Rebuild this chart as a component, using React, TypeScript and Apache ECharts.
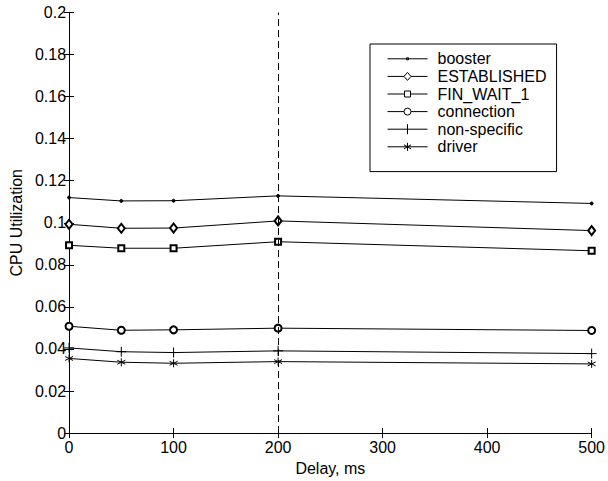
import React, { useEffect, useRef } from "react";
import * as echarts from "echarts";

const delays = [0, 50, 100, 200, 500];
const booster = [0.112, 0.1104, 0.1105, 0.1128, 0.1092];
const established = [0.0993, 0.0974, 0.0975, 0.1009, 0.0963];
const finWait1 = [0.0893, 0.0879, 0.0879, 0.091, 0.0867];
const connection = [0.0508, 0.0489, 0.0491, 0.0499, 0.0488];
const nonSpecific = [0.0405, 0.0387, 0.0383, 0.0391, 0.0378];
const driver = [0.0355, 0.0337, 0.0332, 0.034, 0.0329];
const markerDelay = 200;

const seriesNames = ["booster", "ESTABLISHED", "FIN_WAIT_1", "connection", "non-specific", "driver"];

const legendIcons = [
  "path://M0 6L40 6M19 5L21 5L21 7L19 7Z",
  "path://M0 6L16.5 6M23.5 6L40 6M20 2L23.5 6L20 10L16.5 6Z",
  "path://M0 6L17 6M23 6L40 6M17 3L23 3L23 9L17 9Z",
  "path://M0 6L16.5 6M23.5 6L40 6M23.5 6A3.5 3.5 0 1 1 16.5 6A3.5 3.5 0 1 1 23.5 6Z",
  "path://M0 6L40 6M20 1L20 11",
  "path://M0 6L40 6M20 2L20 10M16.5 4L23.5 8M16.5 8L23.5 4",
];

const FONT = "'Liberation Sans', Arial, Helvetica, sans-serif";

export default function App() {
  const ref = useRef<HTMLDivElement>(null);
  useEffect(() => {
    if (!ref.current) return;
    const chart = echarts.init(ref.current, null, { renderer: "svg" });
    const mk = (name: string, values: number[], symbol: string, size: any) => ({
      name,
      type: "line",
      data: delays.map((d, i) => [d, values[i]]),
      symbol,
      symbolSize: size,
      showSymbol: true,
      lineStyle: { color: "#000", width: 1 },
      itemStyle: { color: "#000", borderColor: "#000", borderWidth: 1 },
      emphasis: { disabled: true },
      z: 3,
    });
    const series: any[] = [
      mk(seriesNames[0], booster, "circle", 3),
      mk(seriesNames[1], established, "emptyDiamond", [7, 9]),
      mk(seriesNames[2], finWait1, "emptyRect", 6),
      mk(seriesNames[3], connection, "emptyCircle", 7),
      mk(seriesNames[4], nonSpecific, "path://M5 0L5 10M0 5L10 5", 10),
      mk(seriesNames[5], driver, "path://M5 0L5 10M0.7 2.5L9.3 7.5M0.7 7.5L9.3 2.5", 8),
    ];
    series[0].markLine = {
      silent: true,
      symbol: "none",
      label: { show: false },
      lineStyle: { color: "#000", width: 1, type: [7, 4] },
      data: [{ xAxis: markerDelay }],
    };
    const axisCommon = {
      type: "value",
      axisLine: { show: true, lineStyle: { color: "#000", width: 1 } },
      axisTick: { show: true, inside: true, length: 5, lineStyle: { color: "#000" } },
      splitLine: { show: false },
    };
    chart.setOption({
      animation: false,
      textStyle: { fontFamily: FONT },
      grid: { left: 64, right: 14, top: 12.5, bottom: 44, containLabel: false },
      legend: {
        show: true,
        orient: "vertical",
        left: 370,
        top: 44,
        padding: [6, 10, 16, 17],
        itemWidth: 40,
        itemHeight: 12,
        itemGap: 0,
        selectedMode: false,
        symbolKeepAspect: true,
        backgroundColor: "#fff",
        borderColor: "#000",
        borderWidth: 1,
        borderRadius: 0,
        itemStyle: { color: "#fff", borderColor: "#000", borderWidth: 1 },
        textStyle: { fontFamily: FONT, fontSize: 16, color: "#000", lineHeight: 17.6, padding: [0, 0, 0, 5] },
        data: seriesNames.map((n, i) => ({ name: n, icon: legendIcons[i] })),
      },
      xAxis: [
        {
          ...axisCommon,
          position: "bottom",
          min: 0,
          max: 500,
          interval: 100,
          name: "Delay, ms",
          nameLocation: "middle",
          nameGap: 21,
          nameTextStyle: { fontFamily: FONT, fontSize: 16, color: "#000" },
          axisLabel: { fontFamily: FONT, fontSize: 16, color: "#000", margin: 6 },
        },
        {
          ...axisCommon,
          position: "top",
          min: 0,
          max: 500,
          interval: 100,
          axisLabel: { show: false },
        },
      ],
      yAxis: [
        {
          ...axisCommon,
          position: "left",
          min: 0,
          max: 0.2,
          interval: 0.02,
          name: "CPU Utilization",
          nameLocation: "middle",
          nameGap: 38,
          nameTextStyle: { fontFamily: FONT, fontSize: 16, color: "#000" },
          axisLabel: {
            fontFamily: FONT,
            fontSize: 16,
            color: "#000",
            margin: 3,
            formatter: (v: number) => String(parseFloat(v.toFixed(2))),
          },
        },
        {
          ...axisCommon,
          position: "right",
          min: 0,
          max: 0.2,
          interval: 0.02,
          axisLabel: { show: false },
        },
      ],
      series,
    });
    return () => chart.dispose();
  }, []);
  return <div ref={ref} style={{ width: 608, height: 481, position: "absolute", left: 0, top: 0 }} />;
}
